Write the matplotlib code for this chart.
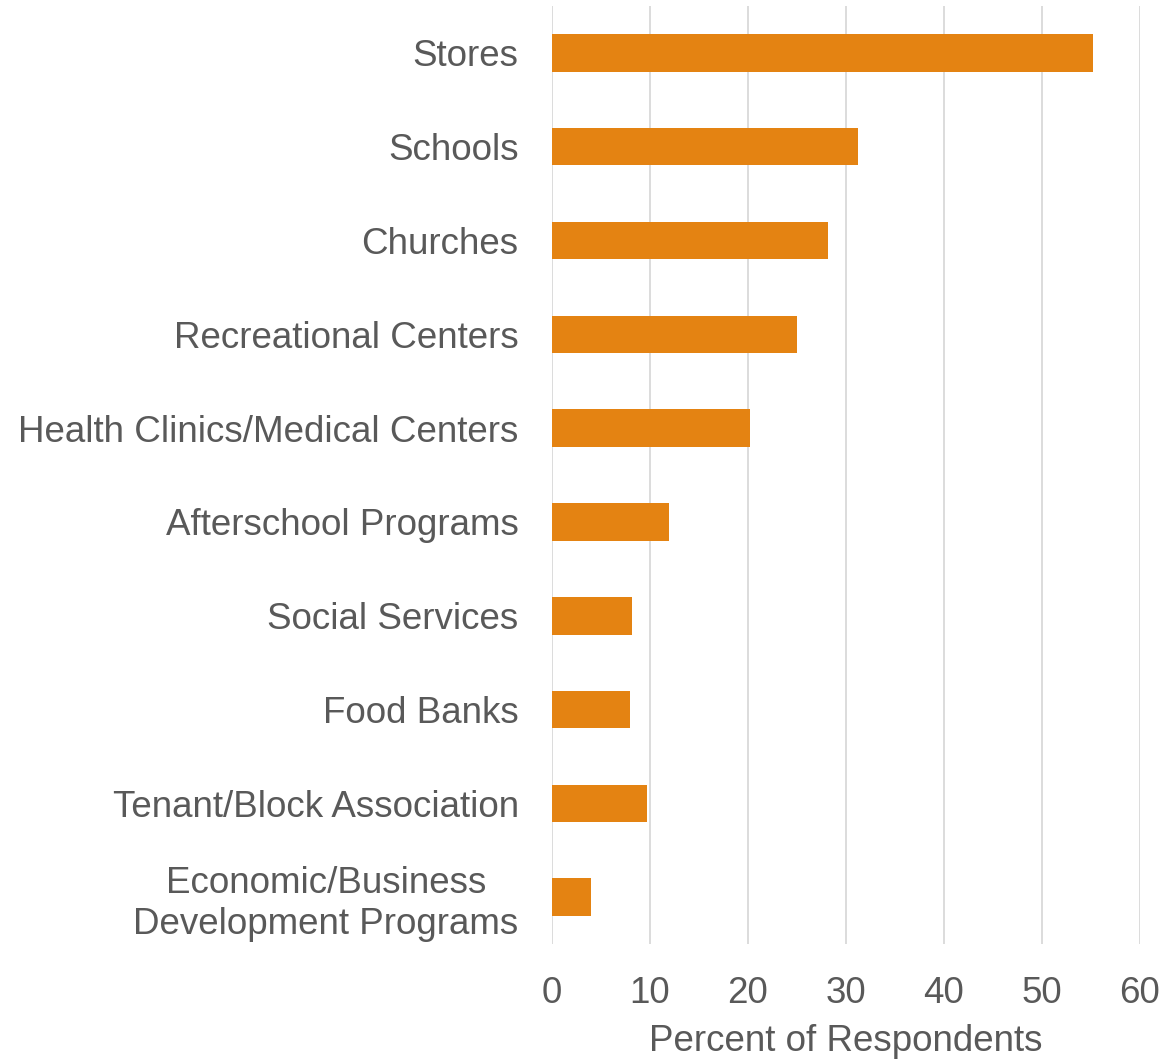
import numpy as np
import matplotlib.pyplot as plt

plt.rcParams['font.family'] = ['Liberation Sans', 'DejaVu Sans']

# categories, top to bottom
categories = ['Stores', 'Schools', 'Churches', 'Recreational Centers',
              'Health Clinics/Medical Centers', 'Afterschool Programs',
              'Social Services', 'Food Banks', 'Tenant/Block Association',
              'Economic/Business\nDevelopment Programs']
percent = [55.2, 31.2, 28.2, 25.0, 20.2, 11.9, 8.2, 8.0, 9.7, 4.0]
xticks = [0, 10, 20, 30, 40, 50, 60]

txt = '#595959'
fig = plt.figure(figsize=(11.66, 10.62), dpi=100)
ax = fig.add_axes([0.4734, 0.111, 0.504, 0.8834])

y = np.arange(len(categories))
ax.barh(y, percent, height=0.4, color='#E48312', zorder=3)
ax.set_ylim(len(categories) - 0.5, -0.5)
ax.set_xlim(0, 60)
ax.set_xticks(xticks)
ax.set_yticks(y)
ax.set_yticklabels(categories, multialignment='center', linespacing=1.2)

ax.grid(axis='x', color='#d9d9d9', linewidth=1.3, zorder=0)
for s in ax.spines.values():
    s.set_visible(False)
ax.tick_params(axis='both', length=0, labelsize=26.5, labelcolor=txt)
ax.tick_params(axis='y', pad=24)
ax.tick_params(axis='x', pad=23)
ax.set_xlabel('Percent of Respondents', fontsize=26.5, color=txt, labelpad=9)

plt.savefig('out.png', dpi=100)
